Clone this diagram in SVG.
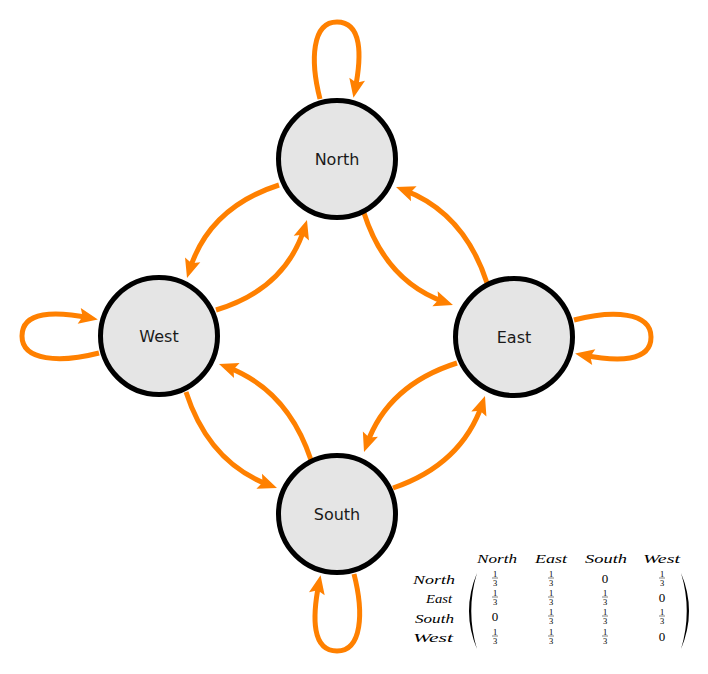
<svg xmlns="http://www.w3.org/2000/svg" width="708" height="674" viewBox="0 0 708 674">
<style>
.node circle{fill:#e5e5e5;stroke:#000;stroke-width:5}
.node text{font-family:"DejaVu Sans","Liberation Sans",sans-serif;font-size:16px;fill:#1a1a1a;text-anchor:middle}
.edge{fill:none;stroke:#ff8000;stroke-width:5;marker-end:url(#ah)}
.m{font-family:"Liberation Serif",serif;font-style:italic;font-size:13px;text-anchor:middle;fill:#000}
.f{font-family:"Liberation Serif",serif;font-size:8.5px;text-anchor:middle;fill:#000}
.z{font-family:"Liberation Serif",serif;font-size:13px;text-anchor:middle;fill:#000}
</style>
<defs>
<marker id="ah" markerUnits="userSpaceOnUse" refX="0" refY="0" markerWidth="30" markerHeight="30" orient="auto" overflow="visible">
<path d="M8,0 L-11,-8 L-7.5,0 L-11,8 Z" fill="#ff8000"/>
</marker>
<g id="third">
<text class="f" x="0" y="-1.5">1</text>
<line x1="-3" y1="0" x2="3" y2="0" stroke="#000" stroke-width="0.5"/>
<text class="f" x="0" y="7.5">3</text>
</g>
</defs>
<g id="connectors">
<path class="edge" d="M279,185 Q209,207.5 189.4,270.4"/>
<path class="edge" d="M216,310 Q285.5,289 304.6,227.6"/>
<path class="edge" d="M364,213 Q385.9,281.6 445.4,302.4"/>
<path class="edge" d="M487,283 Q464.1,212.4 403.5,189.8"/>
<path class="edge" d="M186,392 Q208.9,462.6 269.5,485.2"/>
<path class="edge" d="M311,460 Q287.6,389.4 226.5,366.8"/>
<path class="edge" d="M457,363 Q387.9,384.9 366.7,444.5"/>
<path class="edge" d="M393,488 Q461.6,464.6 482.4,403.6"/>
<path class="edge" d="M320,99 C310,60 312,22 337,22 C362,22 362,55 355,90"/>
<path class="edge" d="M99,353 C60,363 22,361 22,336 C22,311 55,311 90,318"/>
<path class="edge" d="M574,320 C613,310 651,312 651,337 C651,362 618,362 583,355"/>
<path class="edge" d="M354,574 C364,613 362,651 337,651 C312,651 312,618 319,583"/>
</g>
<g id="north" class="node"><circle cx="337" cy="159" r="58.5"/><text x="337" y="165">North</text></g>
<g id="west" class="node"><circle cx="159" cy="336" r="58.5"/><text x="159" y="342">West</text></g>
<g id="east" class="node"><circle cx="514" cy="337" r="58.5"/><text x="514" y="343">East</text></g>
<g id="south" class="node"><circle cx="337" cy="514" r="58.5"/><text x="337" y="520">South</text></g>
<g id="matrix">
<text class="m" x="497" y="563" textLength="40" lengthAdjust="spacingAndGlyphs">North</text>
<text class="m" x="551" y="563" textLength="32" lengthAdjust="spacingAndGlyphs">East</text>
<text class="m" x="606" y="563" textLength="42" lengthAdjust="spacingAndGlyphs">South</text>
<text class="m" x="661.5" y="563" textLength="37" lengthAdjust="spacingAndGlyphs">West</text>
<text class="m" x="434" y="584" textLength="42" lengthAdjust="spacingAndGlyphs">North</text>
<text class="m" x="439" y="603" textLength="26" lengthAdjust="spacingAndGlyphs">East</text>
<text class="m" x="434.5" y="623" textLength="39" lengthAdjust="spacingAndGlyphs">South</text>
<text class="m" x="433" y="642" textLength="40" lengthAdjust="spacingAndGlyphs">West</text>
<path d="M477,573 Q461,611 477,649 Q465.5,611 477,573 Z" fill="#000"/>
<path d="M681,573 Q697,611 681,649 Q692.5,611 681,573 Z" fill="#000"/>
<use href="#third" x="495" y="578"/>
<use href="#third" x="551" y="578"/>
<text class="z" x="605" y="583">0</text>
<use href="#third" x="662" y="578"/>
<use href="#third" x="495" y="597"/>
<use href="#third" x="551" y="597"/>
<use href="#third" x="605" y="597"/>
<text class="z" x="662" y="602">0</text>
<text class="z" x="495" y="621">0</text>
<use href="#third" x="551" y="616"/>
<use href="#third" x="605" y="616"/>
<use href="#third" x="662" y="616"/>
<use href="#third" x="495" y="636"/>
<use href="#third" x="551" y="636"/>
<use href="#third" x="605" y="636"/>
<text class="z" x="662" y="641">0</text>
</g>
</svg>
